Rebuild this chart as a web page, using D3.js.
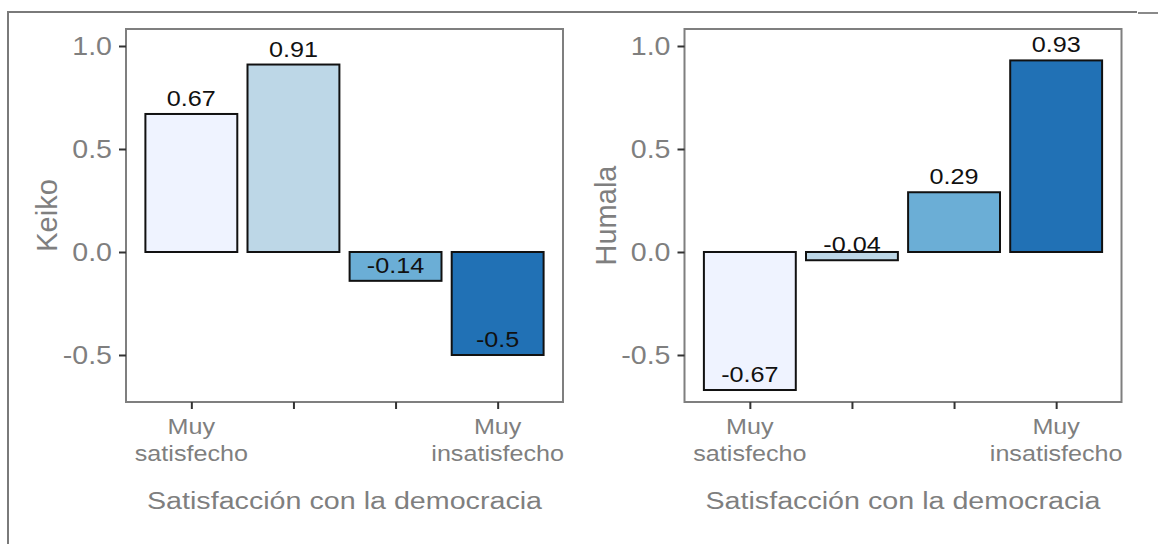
<!DOCTYPE html>
<html>
<head>
<meta charset="utf-8">
<script src="https://cdn.jsdelivr.net/npm/d3@7"></script>
<style>
  body { margin: 0; background: #fff; }
  svg { display: block; font-family: "Liberation Sans", Arial, sans-serif; }
</style>
</head>
<body>
<svg id="chart" width="1158" height="544"></svg>
<script>
"use strict";

// 만족도 범주 (x축)
const categories = ["Muy satisfecho", "2", "3", "Muy insatisfecho"];
const tickLabels = [["Muy", "satisfecho"], [], [], ["Muy", "insatisfecho"]];
const keikoValues = [0.67, 0.91, -0.14, -0.5];
const humalaValues = [-0.67, -0.04, 0.29, 0.93];
const yTicks = [-0.5, 0, 0.5, 1.0];
const barColors = ["#eff3ff", "#bdd7e7", "#6baed6", "#2171b5"];

const svg = d3.select("#chart");

// 바깥 프레임 선
svg.append("line").attr("x1", 8).attr("x2", 1137).attr("y1", 12).attr("y2", 12)
  .attr("stroke", "#7a7a7a").attr("stroke-width", 2);
svg.append("line").attr("x1", 1138).attr("x2", 1158).attr("y1", 13).attr("y2", 13)
  .attr("stroke", "#8a8a8a").attr("stroke-width", 2);
svg.append("line").attr("x1", 8).attr("x2", 8).attr("y1", 11).attr("y2", 544)
  .attr("stroke", "#7a7a7a").attr("stroke-width", 2);

// 가로로 늘린 텍스트 하나 추가 (원본 글자가 가로로 좀 넓음)
function stretchedText(parent, x, y, str, size, fill, anchor, sx) {
  return parent.append("text")
    .attr("transform", `translate(${x},${y}) scale(${sx || 1.2},1)`)
    .attr("text-anchor", anchor || "middle")
    .attr("font-size", size)
    .attr("fill", fill)
    .text(str);
}

function drawPanel(left, title, values) {
  const top = 29, bottom = 402, right = left + 437;

  // 밴드 간격 ~102px, 양쪽 여백 0.64 밴드 (ggplot 확장)
  const step = 437 / 4.28;
  const xc = d3.scalePoint().domain(categories)
    .range([left + 0.64 * step, right - 0.64 * step]);
  const barW = step * 0.9;

  const y = d3.scaleLinear().domain([-0.7282, 1.0825]).range([bottom, top]);

  const g = svg.append("g");

  // 패널 테두리
  g.append("rect")
    .attr("x", left).attr("y", top)
    .attr("width", right - left).attr("height", bottom - top)
    .attr("fill", "none").attr("stroke", "#7f7f7f").attr("stroke-width", 2);

  // 막대
  g.selectAll("rect.bar")
    .data(values)
    .join("rect")
    .attr("class", "bar")
    .attr("x", (d, i) => xc(categories[i]) - barW / 2)
    .attr("width", barW)
    .attr("y", (d) => y(Math.max(0, d)))
    .attr("height", (d) => Math.abs(y(d) - y(0)))
    .attr("fill", (d, i) => barColors[i])
    .attr("stroke", "#111")
    .attr("stroke-width", 2);

  // 값 라벨 (vjust = -0.5 처럼 값 위치 위쪽)
  values.forEach((d, i) => {
    stretchedText(g, xc(categories[i]), y(d) - 8, String(d), 22.5, "#111", "middle", 1.12);
  });

  // y축 (눈금선만 d3 축으로, 라벨은 늘려서 다시 씀)
  const yAxis = g.append("g")
    .attr("transform", `translate(${left},0)`)
    .call(d3.axisLeft(y).tickValues(yTicks).tickSize(7).tickFormat(""));
  yAxis.select(".domain").remove();
  yAxis.selectAll(".tick line").attr("stroke", "#333").attr("stroke-width", 2);
  yTicks.forEach((t) => {
    stretchedText(g, left - 14, y(t) + 9, d3.format(".1f")(t).replace("−", "-"),
      26, "#7f7f7f", "end", 1.1);
  });

  // x축 눈금
  const xAxis = g.append("g")
    .attr("transform", `translate(0,${bottom})`)
    .call(d3.axisBottom(xc).tickSize(7).tickFormat(""));
  xAxis.select(".domain").remove();
  xAxis.selectAll(".tick line").attr("stroke", "#333").attr("stroke-width", 2);

  // x 눈금 라벨 (두 줄)
  categories.forEach((c, i) => {
    tickLabels[i].forEach((line, j) => {
      stretchedText(g, xc(c), 434 + j * 27, line, 21.5, "#7f7f7f", "middle", 1.17);
    });
  });

  // x축 제목
  stretchedText(g, (left + right) / 2, 509, "Satisfacción con la democracia", 24.5, "#7f7f7f", "middle", 1.17);

  // y축 제목
  g.append("text")
    .attr("transform", `translate(${left - 69},${(top + bottom) / 2}) rotate(-90)`)
    .attr("text-anchor", "middle")
    .attr("font-size", 29)
    .attr("fill", "#7f7f7f")
    .text(title);
}

drawPanel(126, "Keiko", keikoValues);
drawPanel(684.5, "Humala", humalaValues);
</script>
</body>
</html>
